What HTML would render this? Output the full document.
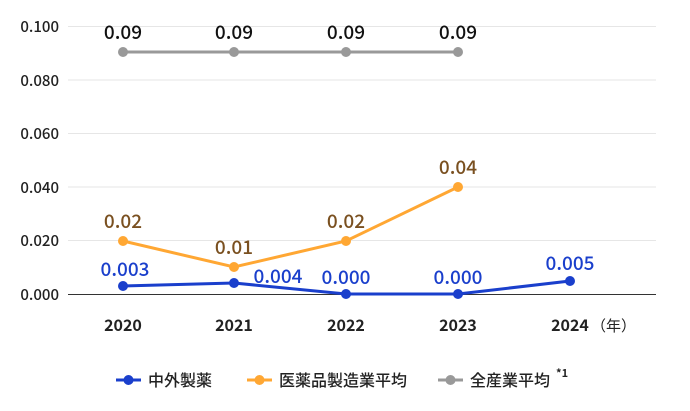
<!DOCTYPE html>
<html><head><meta charset="utf-8"><style>
body{margin:0;background:#fff;}
svg text{font-family:"Noto Sans CJK JP","Liberation Sans",sans-serif;}
</style></head><body>
<svg width="690" height="406" viewBox="0 0 690 406">
<g stroke="#e6e6e6" stroke-width="1">
<line x1="68" x2="656" y1="26.5" y2="26.5"/>
<line x1="68" x2="656" y1="80" y2="80"/>
<line x1="68" x2="656" y1="133.5" y2="133.5"/>
<line x1="68" x2="656" y1="187" y2="187"/>
<line x1="68" x2="656" y1="240.5" y2="240.5"/>
</g>
<line x1="68" x2="656" y1="294.5" y2="294.5" stroke="#333" stroke-width="1"/>
<g font-size="15" fill="#222" text-anchor="end" font-weight="500">
<text x="59" y="32">0.100</text>
<text x="59" y="86">0.080</text>
<text x="59" y="139">0.060</text>
<text x="59" y="193">0.040</text>
<text x="59" y="246">0.020</text>
<text x="59" y="300">0.000</text>
</g>
<g font-size="16" fill="#222" text-anchor="middle" font-weight="bold">
<text x="123" y="331">2020</text>
<text x="234" y="331">2021</text>
<text x="346" y="331">2022</text>
<text x="458" y="331">2023</text>
<text x="570" y="331">2024</text>
</g>
<text x="591" y="331" font-size="15" fill="#222">（年）</text>
<polyline points="123,52 234,52 346,52 458,52" fill="none" stroke="#999" stroke-width="3"/>
<g fill="#999"><circle cx="123" cy="52" r="5"/><circle cx="234" cy="52" r="5"/><circle cx="346" cy="52" r="5"/><circle cx="458" cy="52" r="5"/></g>
<polyline points="123,241 234,267 346,241 458,187" fill="none" stroke="#ffa733" stroke-width="3"/>
<g fill="#ffa733"><circle cx="123" cy="241" r="5"/><circle cx="234" cy="267" r="5"/><circle cx="346" cy="241" r="5"/><circle cx="458" cy="187" r="5"/></g>
<polyline points="123,286 234,283 346,294 458,294 570,281" fill="none" stroke="#1a3fcc" stroke-width="3"/>
<g fill="#1a3fcc"><circle cx="123" cy="286" r="5"/><circle cx="234" cy="283" r="5"/><circle cx="346" cy="294" r="5"/><circle cx="458" cy="294" r="5"/><circle cx="570" cy="281" r="5"/></g>
<g font-size="19" fill="#111" text-anchor="middle" font-weight="500">
<text x="123" y="39">0.09</text><text x="234" y="39">0.09</text><text x="346" y="39">0.09</text><text x="458" y="39">0.09</text>
</g>
<g font-size="19" fill="#7a5020" text-anchor="middle" font-weight="500">
<text x="123" y="228">0.02</text><text x="234" y="254">0.01</text><text x="346" y="228">0.02</text><text x="458" y="174">0.04</text>
</g>
<g font-size="19" fill="#1a3fcc" text-anchor="middle" font-weight="500">
<text x="125" y="276">0.003</text><text x="278" y="283">0.004</text><text x="346" y="284">0.000</text><text x="458" y="284">0.000</text><text x="570" y="270">0.005</text>
</g>
<g font-size="16" fill="#222" font-weight="500">
<line x1="116" x2="141" y1="380" y2="380" stroke="#1a3fcc" stroke-width="3"/><circle cx="128.5" cy="380" r="5" fill="#1a3fcc"/>
<text x="148" y="386">中外製薬</text>
<line x1="247" x2="272" y1="380" y2="380" stroke="#ffa733" stroke-width="3"/><circle cx="259.5" cy="380" r="5" fill="#ffa733"/>
<text x="279" y="386">医薬品製造業平均</text>
<line x1="438" x2="463" y1="380" y2="380" stroke="#999" stroke-width="3"/><circle cx="450.5" cy="380" r="5" fill="#999"/>
<text x="470" y="386">全産業平均</text>
<text x="556" y="377" font-size="11" font-weight="bold">*1</text>
</g>
</svg>
</body></html>
